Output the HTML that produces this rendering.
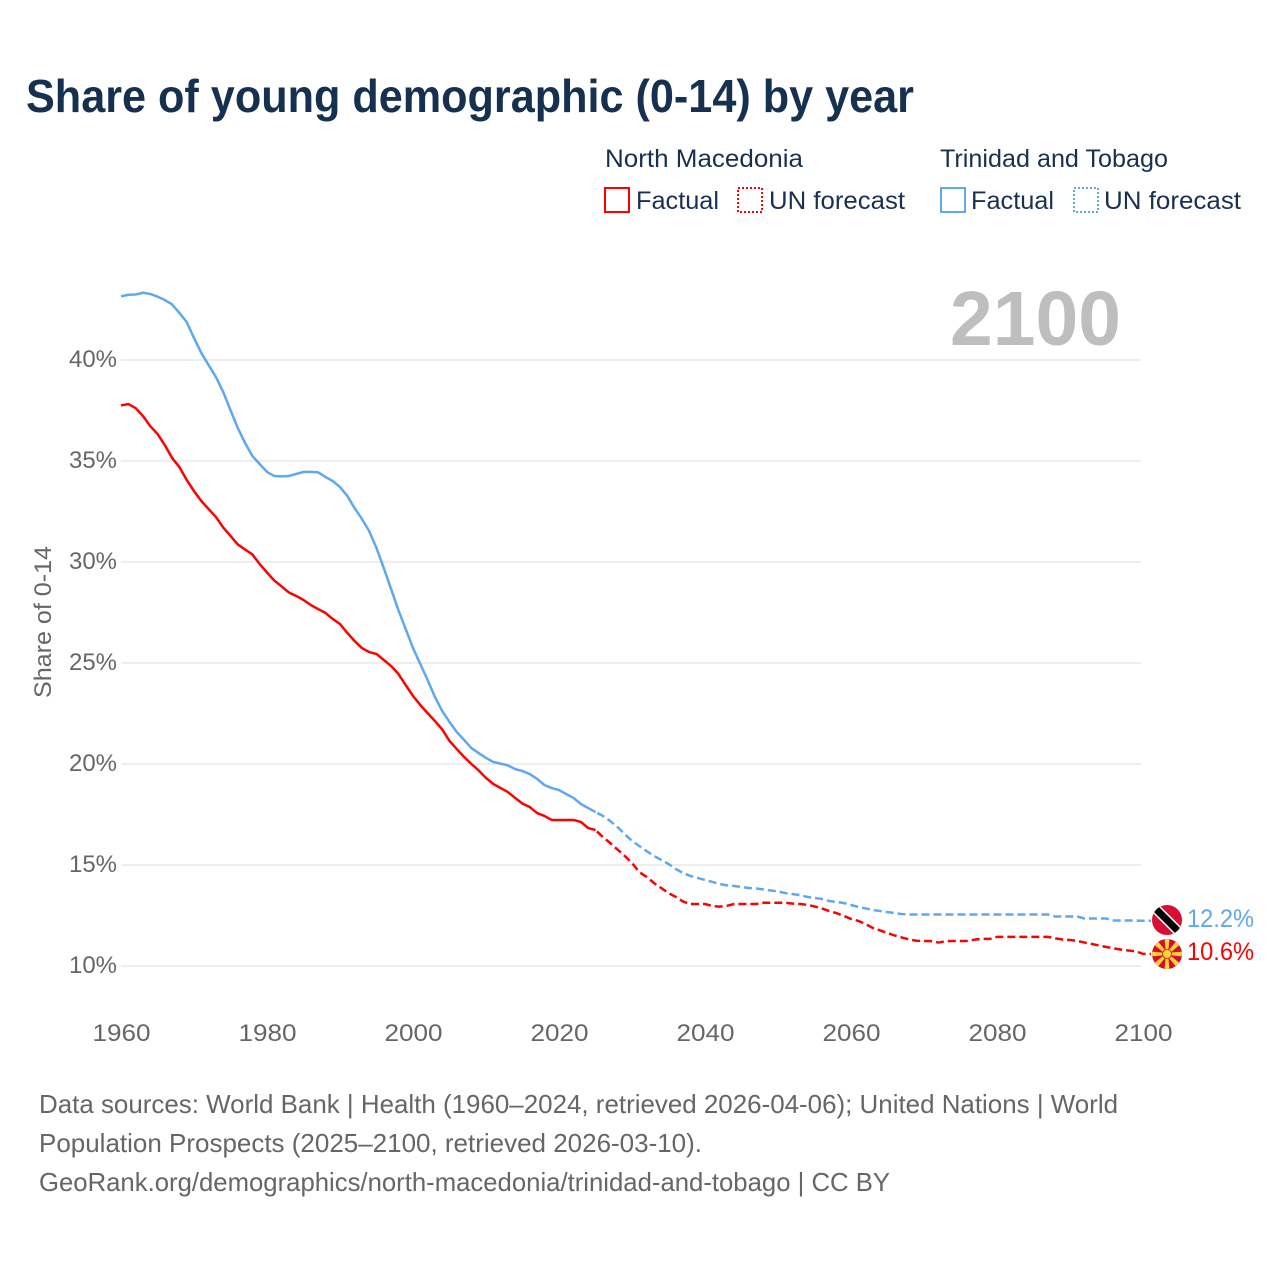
<!DOCTYPE html>
<html lang="en">
<head>
<meta charset="utf-8">
<title>Share of young demographic (0-14) by year</title>
<style>
html,body{margin:0;padding:0;background:#fff;}
svg{display:block;font-family:"Liberation Sans",sans-serif;}
.legend-text{font-size:25px;fill:#1a3050;}
.tick{font-size:24px;fill:#666;}
.foot{font-size:26px;fill:#666;}
</style>
</head>
<body>
<svg id="chart" xmlns="http://www.w3.org/2000/svg" width="1280" height="1280" viewBox="0 0 1280 1280">
  <rect width="1280" height="1280" fill="#fff"/>
  <text x="26" y="112" font-size="46" font-weight="700" fill="#16304f" textLength="888" lengthAdjust="spacingAndGlyphs">Share of young demographic (0-14) by year</text>

  <g>
    <text class="legend-text" x="605" y="167" textLength="198" lengthAdjust="spacingAndGlyphs">North Macedonia</text>
    <rect x="605" y="188" width="24" height="24" fill="none" stroke="#ff0000" stroke-width="2"/>
    <text class="legend-text" x="636" y="209" textLength="83" lengthAdjust="spacingAndGlyphs">Factual</text>
    <rect x="738" y="188" width="24" height="24" fill="none" stroke="#ff0000" stroke-width="2" stroke-dasharray="2 2"/>
    <text class="legend-text" x="769" y="209" textLength="136" lengthAdjust="spacingAndGlyphs">UN forecast</text>

    <text class="legend-text" x="940" y="167" textLength="228" lengthAdjust="spacingAndGlyphs">Trinidad and Tobago</text>
    <rect x="941" y="188" width="24" height="24" fill="none" stroke="#5fa8ee" stroke-width="2"/>
    <text class="legend-text" x="971" y="209" textLength="83" lengthAdjust="spacingAndGlyphs">Factual</text>
    <rect x="1074" y="188" width="24" height="24" fill="none" stroke="#5fa8ee" stroke-width="2" stroke-dasharray="2 2"/>
    <text class="legend-text" x="1104" y="209" textLength="137" lengthAdjust="spacingAndGlyphs">UN forecast</text>
  </g>

  <g id="grid-layer"></g>
  <g id="y-tick-layer"></g>
  <g id="x-tick-layer"></g>

  <text class="tick" transform="translate(51,698) rotate(-90)" x="0" y="0" textLength="152" lengthAdjust="spacingAndGlyphs">Share of 0-14</text>
  <text x="950" y="345" font-size="77" font-weight="700" fill="#bebebe" textLength="171" lengthAdjust="spacingAndGlyphs">2100</text>

  <g id="line-layer"></g>

  <defs>
    <clipPath id="flag-clip-tt"><circle cx="1167" cy="920" r="15"/></clipPath>
    <clipPath id="flag-clip-mk"><circle cx="1167" cy="954" r="15"/></clipPath>
  </defs>
  <g clip-path="url(#flag-clip-tt)">
    <rect x="1150" y="903" width="34" height="34" fill="#d80f33"/>
    <line x1="1150" y1="903" x2="1184" y2="937" stroke="#fff" stroke-width="10"/>
    <line x1="1150" y1="903" x2="1184" y2="937" stroke="#000" stroke-width="7"/>
  </g>
  <g clip-path="url(#flag-clip-mk)">
    <rect x="1150" y="937" width="34" height="34" fill="#d20f2a"/>
    <polygon fill="#ffd23a" points="1166,954 1168,954 1169.5,938 1164.5,938"/>
    <polygon fill="#ffd23a" points="1166,954 1168,954 1169.5,938 1164.5,938" transform="rotate(45 1167 954)"/>
    <polygon fill="#ffd23a" points="1166,954 1168,954 1169.5,938 1164.5,938" transform="rotate(90 1167 954)"/>
    <polygon fill="#ffd23a" points="1166,954 1168,954 1169.5,938 1164.5,938" transform="rotate(135 1167 954)"/>
    <polygon fill="#ffd23a" points="1166,954 1168,954 1169.5,938 1164.5,938" transform="rotate(180 1167 954)"/>
    <polygon fill="#ffd23a" points="1166,954 1168,954 1169.5,938 1164.5,938" transform="rotate(225 1167 954)"/>
    <polygon fill="#ffd23a" points="1166,954 1168,954 1169.5,938 1164.5,938" transform="rotate(270 1167 954)"/>
    <polygon fill="#ffd23a" points="1166,954 1168,954 1169.5,938 1164.5,938" transform="rotate(315 1167 954)"/>
    <circle cx="1167" cy="954" r="4.5" fill="#ffd23a" stroke="#d20f2a" stroke-width="0.8"/>
  </g>

  <g id="end-label-layer"></g>

  <g>
    <text class="foot" x="39" y="1113" textLength="1079" lengthAdjust="spacingAndGlyphs">Data sources: World Bank | Health (1960–2024, retrieved 2026-04-06); United Nations | World</text>
    <text class="foot" x="39" y="1152" textLength="663" lengthAdjust="spacingAndGlyphs">Population Prospects (2025–2100, retrieved 2026-03-10).</text>
    <text class="foot" x="39" y="1191" textLength="851" lengthAdjust="spacingAndGlyphs">GeoRank.org/demographics/north-macedonia/trinidad-and-tobago | CC BY</text>
  </g>
</svg>
<script>
const factualStartYear = 1960;
const forecastStartYear = 2025;
const yTickValues = [10, 15, 20, 25, 30, 35, 40];
const xTickYears = [1960, 1980, 2000, 2020, 2040, 2060, 2080, 2100];

const macedoniaFactual = [
  37.75,37.82,37.62,37.23,36.73,36.34,35.79,35.15,34.70,34.06,
  33.51,33.02,32.62,32.23,31.71,31.29,30.87,30.62,30.37,29.90,
  29.48,29.08,28.79,28.49,28.32,28.12,27.87,27.67,27.48,27.18,
  26.93,26.49,26.09,25.74,25.54,25.45,25.15,24.85,24.46,23.91,
  23.37,22.92,22.52,22.13,21.71,21.14,20.74,20.35,20.00,19.68,
  19.31,19.01,18.81,18.61,18.32,18.04,17.87,17.57,17.43,17.23,
  17.23,17.23,17.23,17.13,16.83,16.73
];
const macedoniaForecast = [
  16.73,
  16.39,16.09,15.77,15.45,15.10,14.65,14.41,14.11,13.86,13.61,
  13.42,13.19,13.07,13.07,13.07,12.97,12.94,12.98,13.07,13.07,
  13.07,13.07,13.13,13.13,13.13,13.13,13.09,13.07,13.03,12.95,
  12.85,12.72,12.62,12.48,12.33,12.23,12.08,11.88,11.76,11.63,
  11.51,11.41,11.31,11.25,11.24,11.23,11.16,11.23,11.24,11.24,
  11.24,11.31,11.34,11.34,11.44,11.44,11.44,11.44,11.44,11.44,
  11.44,11.44,11.37,11.31,11.29,11.24,11.16,11.09,11.01,10.94,
  10.87,10.81,10.77,10.73,10.60
];
const trinidadFactual = [
  43.15,43.23,43.24,43.33,43.27,43.14,42.97,42.75,42.33,41.88,
  41.09,40.35,39.75,39.16,38.42,37.52,36.63,35.89,35.25,34.85,
  34.46,34.26,34.24,34.26,34.36,34.46,34.46,34.44,34.21,34.01,
  33.71,33.27,32.67,32.13,31.53,30.69,29.70,28.66,27.62,26.68,
  25.74,24.95,24.16,23.32,22.62,22.08,21.58,21.19,20.79,20.54,
  20.30,20.10,20.02,19.93,19.75,19.65,19.50,19.26,18.96,18.81,
  18.71,18.51,18.32,18.02,17.82,17.62
];
const trinidadForecast = [
  17.62,
  17.43,17.18,16.88,16.53,16.19,15.94,15.69,15.45,15.25,15.05,
  14.80,14.60,14.46,14.36,14.26,14.16,14.06,13.99,13.96,13.91,
  13.86,13.84,13.79,13.74,13.69,13.61,13.56,13.51,13.42,13.37,
  13.32,13.22,13.17,13.12,13.02,12.92,12.85,12.77,12.72,12.67,
  12.62,12.57,12.55,12.55,12.55,12.55,12.55,12.55,12.55,12.55,
  12.55,12.55,12.55,12.55,12.55,12.55,12.55,12.55,12.55,12.55,
  12.55,12.55,12.45,12.45,12.45,12.45,12.35,12.35,12.35,12.35,
  12.25,12.25,12.25,12.25,12.24
];

const NS = 'http://www.w3.org/2000/svg';
function xScale(year) { return 121 + (year - 1960) * 7.3; }
function yScale(value) { return 966 - (value - 10) * 20.2; }

function linePath(values, startYear, extend) {
  let d = '';
  values.forEach(function (v, i) {
    d += (i ? 'L' : 'M') + xScale(startYear + i).toFixed(2) + ' ' + yScale(v).toFixed(2);
  });
  if (extend) {
    const last = values[values.length - 1];
    d += 'L' + (xScale(startYear + values.length - 1) + extend).toFixed(2) + ' ' + yScale(last).toFixed(2);
  }
  return d;
}

const gridLayer = document.getElementById('grid-layer');
const yTickLayer = document.getElementById('y-tick-layer');
const xTickLayer = document.getElementById('x-tick-layer');
const lineLayer = document.getElementById('line-layer');
const endLabelLayer = document.getElementById('end-label-layer');

yTickValues.forEach(function (v) {
  const g = document.createElementNS(NS, 'line');
  
  
  g.setAttribute('x1', 121);
  g.setAttribute('x2', 1141);
  g.setAttribute('y1', yScale(v));
  g.setAttribute('y2', yScale(v));
  g.setAttribute('stroke', '#eeeeee');
  g.setAttribute('stroke-width', 2);
  gridLayer.appendChild(g);

  const t = document.createElementNS(NS, 'text');
  
  
  t.setAttribute('class', 'tick');
  t.setAttribute('x', 69);
  t.setAttribute('y', yScale(v) + 7);
  t.setAttribute('textLength', 48);
  t.setAttribute('lengthAdjust', 'spacingAndGlyphs');
  t.textContent = v + '%';
  yTickLayer.appendChild(t);
});

xTickYears.forEach(function (yr) {
  const t = document.createElementNS(NS, 'text');
  
  
  t.setAttribute('class', 'tick');
  t.setAttribute('x', xScale(yr) - 28.5);
  t.setAttribute('y', 1041);
  t.setAttribute('textLength', 58);
  t.setAttribute('lengthAdjust', 'spacingAndGlyphs');
  t.textContent = yr;
  xTickLayer.appendChild(t);
});

function addLine(name, values, startYear, color, dashed, extend) {
  const p = document.createElementNS(NS, 'path');
  
  
  p.setAttribute('d', linePath(values, startYear, extend));
  p.setAttribute('fill', 'none');
  p.setAttribute('stroke', color);
  p.setAttribute('stroke-width', 2.5);
  p.setAttribute('stroke-linejoin', 'round');
  if (dashed) {
    p.setAttribute('stroke-dasharray', '8 4');
    p.setAttribute('stroke-dashoffset', '10');
  }
  lineLayer.appendChild(p);
}
addLine('line-trinidad-factual', trinidadFactual, factualStartYear, '#5fa8ee', false, 0);
addLine('line-trinidad-forecast', trinidadForecast, forecastStartYear, '#5fa8ee', true, 8);
addLine('line-macedonia-factual', macedoniaFactual, factualStartYear, '#ff0000', false, 0);
addLine('line-macedonia-forecast', macedoniaForecast, forecastStartYear, '#ff0000', true, 8);

function addEndLabel(name, values, color, y) {
  const t = document.createElementNS(NS, 'text');
  
  
  t.setAttribute('x', 1187);
  t.setAttribute('y', y);
  t.setAttribute('font-size', 25);
  t.setAttribute('fill', color);
  t.setAttribute('textLength', 67);
  t.setAttribute('lengthAdjust', 'spacingAndGlyphs');
  t.textContent = values[values.length - 1].toFixed(1) + '%';
  endLabelLayer.appendChild(t);
}
addEndLabel('end-label-trinidad', trinidadForecast, '#5fa8ee', 927);
addEndLabel('end-label-macedonia', macedoniaForecast, '#ff0000', 960);
</script>
</body>
</html>
